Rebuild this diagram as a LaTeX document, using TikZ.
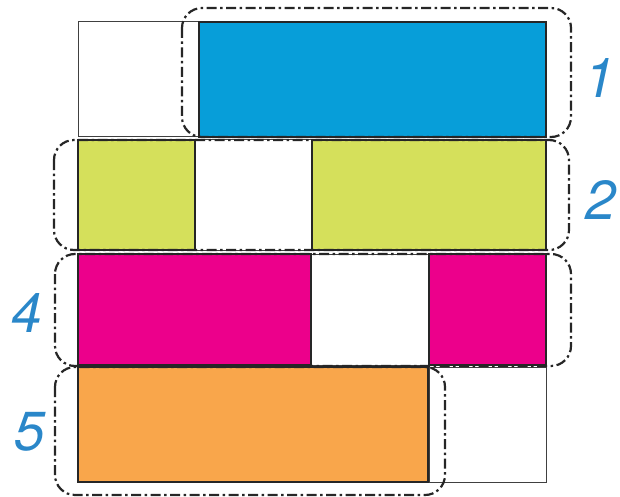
\documentclass[tikz,border=0pt]{standalone}
\usepackage{fontspec}
\setsansfont{TeX Gyre Heros}
\begin{document}
\begin{tikzpicture}[x=1pt,y=-1pt,
  cell/.style={draw=black!85,line width=1.3pt},
  blank/.style={draw=black!75,line width=1pt,fill=white},
  grp/.style={draw=black!85,line width=2.2pt,rounded corners=20pt,dash pattern=on 10pt off 3.5pt on 2.5pt off 3.5pt},
  lbl/.style={text=numblue,font=\sffamily\itshape\fontsize{55}{55}\selectfont,inner sep=0pt}]
\definecolor{cblue}{HTML}{079ED9}
\definecolor{cgreen}{HTML}{D5E05B}
\definecolor{cmag}{HTML}{EC008B}
\definecolor{corange}{HTML}{F9A64B}
\definecolor{numblue}{HTML}{2A87C9}
\useasboundingbox (0,0) rectangle (620,497);
% row 1
\draw[blank] (78,22) rectangle (199,137);
\draw[cell,fill=cblue] (199,22) rectangle (546,137);
% row 2
\draw[blank] (195,140) rectangle (312,250);
\draw[cell,fill=cgreen] (78,140) rectangle (195,250);
\draw[cell,fill=cgreen] (312,140) rectangle (546,250);
% row 3
\draw[blank] (311,254) rectangle (429,365);
\draw[cell,fill=cmag] (78,254) rectangle (311,365);
\draw[cell,fill=cmag] (429,254) rectangle (546,365);
% row 4
\draw[blank] (429,367) rectangle (546,482);
\draw[cell,fill=corange] (78,367) rectangle (428,482);
% groups
\draw[grp] (182,8) rectangle (571,137);
\draw[grp] (54,140) rectangle (569,250);
\draw[grp] (55,254) rectangle (571,366);
\draw[grp] (55,367) rectangle (445,495);
% labels
\node[lbl] (n1) at (600,78) {1};
\node[lbl] (n2) at (601,200) {2};
\node[lbl] (n4) at (27,313) {4};
\node[lbl] (n5) at (30,432) {5};
\end{tikzpicture}
\end{document}
